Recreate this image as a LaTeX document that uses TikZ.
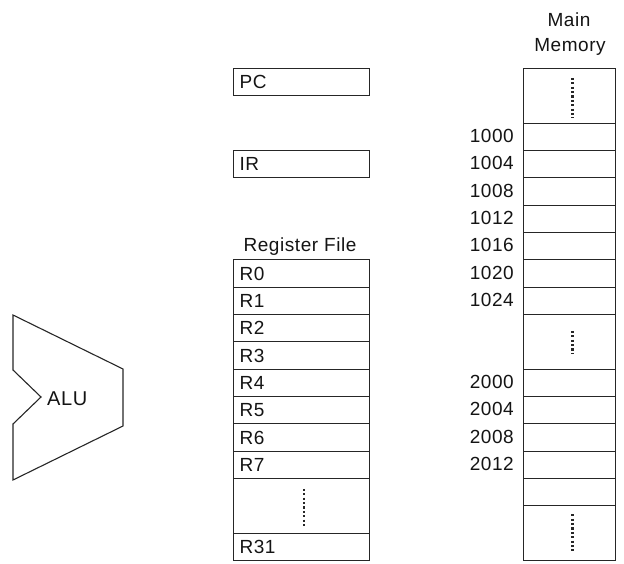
\documentclass[tikz,border=0pt]{standalone}
\usepackage{fontspec}
\setmainfont{Liberation Sans}[LetterSpace=3]
\begin{document}
\begin{tikzpicture}[x=1pt,y=-1pt,
  ln/.style={draw=black!85, line width=1.1pt},
  txt/.style={font=\fontsize{19}{21}\selectfont, text=black!92, inner sep=0pt},
  cell/.style={ln, txt, anchor=north west, minimum height=27.33pt, text width=124pt, inner xsep=6pt, inner ysep=0pt, align=left},
  mcell/.style={ln, anchor=north west, minimum width=92pt, minimum height=27.33pt, inner sep=0pt},
  dotline/.style={line width=2.3pt, black!85, dash pattern=on 2.2pt off 2.2pt},
  addr/.style={txt, anchor=base east}]
\useasboundingbox (0,0) rectangle (624,564);
\def\h{27.33}
% ALU
\draw[ln] (13,315) -- (123,369) -- (123,426) -- (13,480) -- (13,424) -- (41,397) -- (13,370) -- cycle;
\node[txt, font=\fontsize{20}{22}\selectfont, anchor=base west] (alu) at (47,405) {ALU};
% PC and IR
\node[cell] (pc) at (233,68) {PC};
\node[cell] (ir) at (233,{68+3*\h}) {IR};
% Register file
\node[txt, anchor=base] (rflabel) at (300,252) {Register File};
\foreach \i in {0,...,7} {
  \node[cell] (r\i) at (233,{68+(7+\i)*\h}) {R\i};
}
\node[cell, minimum height=54.66pt] (rdots) at (233,{68+15*\h}) {};
\node[cell] (r31) at (233,{68+17*\h}) {R31};
\draw[dotline] ([xshift=2.5pt,yshift=17pt]rdots.center) -- ([xshift=2.5pt,yshift=-20pt]rdots.center);
% Main memory
\node[txt, anchor=base] (mm1) at (569,27) {Main};
\node[txt, anchor=base] (mm2) at (570,52) {Memory};
\node[mcell, minimum height=54.66pt] (mtop) at (523,68) {};
\foreach \i/\lab in {2/1000,3/1004,4/1008,5/1012,6/1016,7/1020,8/1024,11/2000,12/2004,13/2008,14/2012} {
  \node[mcell] (m\lab) at (523,{68+\i*\h}) {};
  \node[addr] (a\lab) at (514,{68+\i*\h+20}) {\lab};
}
\node[mcell, minimum height=54.66pt] (mmid) at (523,{68+9*\h}) {};
\node[mcell] (mblank) at (523,{68+15*\h}) {};
\node[mcell, minimum height=54.66pt] (mbot) at (523,{68+16*\h}) {};
\draw[dotline] ([xshift=3pt,yshift=18pt]mtop.center) -- ([xshift=3pt,yshift=-22pt]mtop.center);
\draw[dotline] ([xshift=3pt,yshift=11pt]mmid.center) -- ([xshift=3pt,yshift=-12pt]mmid.center);
\draw[dotline] ([xshift=3pt,yshift=19pt]mbot.center) -- ([xshift=3pt,yshift=-18pt]mbot.center);
\end{tikzpicture}
\end{document}
